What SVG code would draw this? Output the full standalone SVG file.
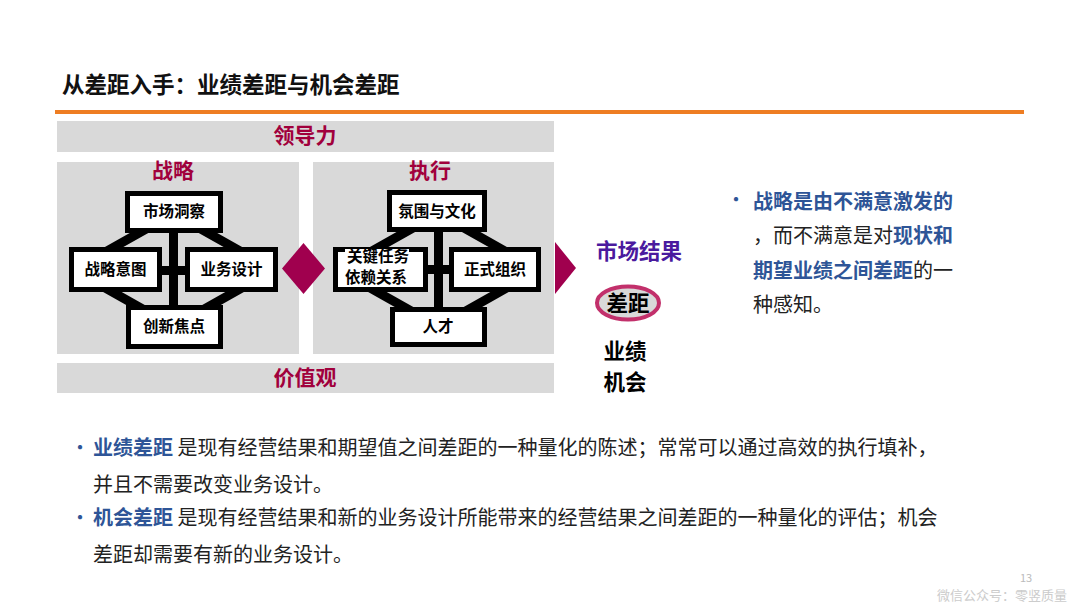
<svg xmlns="http://www.w3.org/2000/svg" width="1080" height="608" viewBox="0 0 1080 608">
<style>
text{font-family:"Noto Sans CJK SC","Noto Sans",sans-serif}
.red{fill:#A1003C;font-weight:bold;font-size:21px;text-anchor:middle}
.box{fill:#fff;stroke:#000;stroke-width:5}
.bt{font-size:15.5px;font-weight:bold;fill:#000;text-anchor:middle}
.link{stroke:#000;stroke-width:9;fill:none}
.band{fill:#D9D9D9}
.body{font-size:20px;fill:#222}
.blue{fill:#2E5597;font-weight:bold}
.big{font-size:21.5px;font-weight:bold;fill:#000;text-anchor:middle}
.dot{fill:#2E5597;font-size:20px}
</style>
<rect width="1080" height="608" fill="#fff"/>
<g id="title">
<text x="62" y="93" font-size="22.5" font-weight="bold" fill="#111">从差距入手：业绩差距与机会差距</text>
<rect x="55" y="110" width="969" height="4" fill="#EE7D22"/>
</g>
<g id="leadership"><rect class="band" x="57" y="121" width="497" height="31"/><text class="red" x="305" y="143">领导力</text></g>
<g id="values"><rect class="band" x="57" y="363" width="497" height="30"/><text class="red" x="305" y="385">价值观</text></g>
<g id="strategy-panel"><rect class="band" x="57" y="162" width="242" height="192"/><text class="red" x="173" y="178">战略</text></g>
<g id="execution-panel"><rect class="band" x="313" y="162" width="241" height="192"/><text class="red" x="430" y="178">执行</text></g>
<g id="connectors">
<path class="link" d="M155,224 L100,255 M192,224 L247,255 M100,285 L155,316 M247,285 L192,316"/>
<path class="link" d="M173.5,225 V320 M160,270.5 H190" stroke-width="8"/>
<path class="link" d="M420,224 L365,255 M457,224 L512,255 M365,285 L420,316 M512,285 L457,316"/>
<path class="link" d="M438.5,225 V320 M425,269.5 H455" stroke-width="8"/>
<polygon points="282,268.5 303.5,243 325,268.5 303.5,294" fill="#A0004E"/>
<polygon points="555,242 576,268 555,294" fill="#A0004E"/>
</g>
<g id="n-market"><rect class="box" x="127.5" y="193.5" width="93" height="37"/><text class="bt" x="174" y="217">市场洞察</text></g>
<g id="n-intent"><rect class="box" x="71.5" y="249.5" width="88" height="40"/><text class="bt" x="115.5" y="275">战略意图</text></g>
<g id="n-design"><rect class="box" x="187.5" y="249.5" width="88" height="40"/><text class="bt" x="231.5" y="275">业务设计</text></g>
<g id="n-innov"><rect class="box" x="128.5" y="307.5" width="92" height="39"/><text class="bt" x="174" y="332">创新焦点</text></g>
<g id="n-culture"><rect class="box" x="389.5" y="192.5" width="95" height="37"/><text class="bt" x="437" y="217">氛围与文化</text></g>
<g id="n-task"><rect class="box" x="335.5" y="249.5" width="90" height="40"/><rect x="345" y="249" width="64" height="6" fill="#fff"/><text class="bt" x="378" y="261.5" font-size="14.5">关键任务</text><text class="bt" x="376" y="282.5" font-size="14.5">依赖关系</text></g>
<g id="n-org"><rect class="box" x="451.5" y="249.5" width="87" height="40"/><text class="bt" x="495" y="275">正式组织</text></g>
<g id="n-talent"><rect class="box" x="392.5" y="309.5" width="92" height="35"/><text class="bt" x="438" y="332">人才</text></g>
<g id="result">
<text x="639" y="259" font-size="21.5" font-weight="bold" fill="#4A1A9E" text-anchor="middle">市场结果</text>
<ellipse cx="628" cy="303" rx="31" ry="16.5" fill="#D9D9D9" stroke="#C2306B" stroke-width="4"/>
<text class="big" x="628" y="310.5">差距</text>
<text class="big" x="625" y="359">业绩</text>
<text class="big" x="625" y="390">机会</text>
</g>
<g id="right-note" class="body">
<text class="dot" x="726" y="207">•</text>
<text x="753" y="209"><tspan class="blue">战略是由不满意激发的</tspan></text>
<text x="753" y="243">，而不满意是对<tspan class="blue">现状和</tspan></text>
<text x="753" y="278"><tspan class="blue">期望业绩之间差距</tspan>的一</text>
<text x="753" y="312">种感知。</text>
</g>
<g id="bottom-notes" class="body">
<text class="dot" x="70" y="455">•</text>
<text x="93" y="455"><tspan class="blue">业绩差距</tspan> 是现有经营结果和期望值之间差距的一种量化的陈述；常常可以通过高效的执行填补，</text>
<text x="93" y="492">并且不需要改变业务设计。</text>
<text class="dot" x="70" y="525">•</text>
<text x="93" y="525"><tspan class="blue">机会差距</tspan> 是现有经营结果和新的业务设计所能带来的经营结果之间差距的一种量化的评估；机会</text>
<text x="93" y="562">差距却需要有新的业务设计。</text>
</g>
<g id="footer">
<text x="1026" y="582" font-size="11" fill="#BBB" text-anchor="middle" font-family="Liberation Sans">13</text>
<text x="1067" y="600" font-size="13" fill="#CCC" text-anchor="end">微信公众号：零竖质量</text>
</g>
</svg>
